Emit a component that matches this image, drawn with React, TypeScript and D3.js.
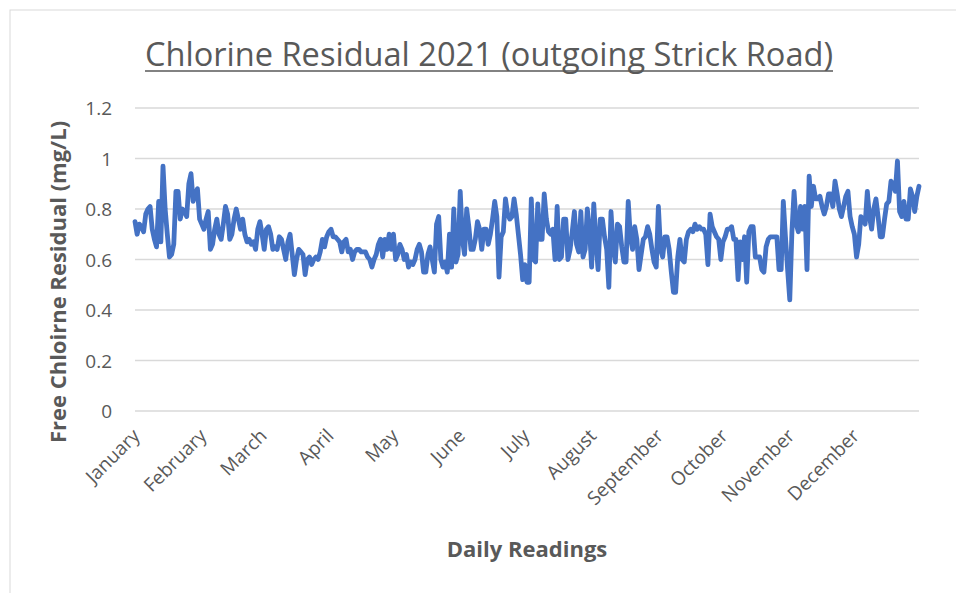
import React from "react";
import * as d3 from "d3";

const monthNames = ["January","February","March","April","May","June","July","August","September","October","November","December"];
const jan = [0.75,0.70,0.74,0.73,0.71,0.78,0.80,0.81,0.72,0.68,0.65,0.83,0.67,0.97,0.80,0.70,0.61,0.62,0.66,0.87,0.87,0.76,0.80,0.79,0.77,0.90,0.94,0.83,0.86,0.88,0.76];
const feb = [0.74,0.72,0.76,0.79,0.64,0.66,0.72,0.76,0.70,0.68,0.74,0.81,0.78,0.68,0.70,0.76,0.80,0.76,0.72,0.76,0.70,0.67,0.68,0.66,0.67,0.64,0.72,0.75];
const mar = [0.70,0.64,0.72,0.73,0.70,0.64,0.65,0.64,0.69,0.68,0.64,0.60,0.67,0.70,0.62,0.54,0.60,0.64,0.63,0.62,0.54,0.60,0.61,0.58,0.60,0.61,0.60,0.63,0.68,0.65,0.69];
const apr = [0.71,0.72,0.69,0.69,0.68,0.67,0.63,0.67,0.68,0.63,0.64,0.60,0.63,0.64,0.64,0.63,0.63,0.63,0.61,0.60,0.57,0.60,0.62,0.66,0.68,0.61,0.68,0.64,0.70,0.64];
const may = [0.70,0.60,0.62,0.66,0.64,0.60,0.62,0.57,0.59,0.58,0.60,0.64,0.66,0.63,0.55,0.55,0.62,0.65,0.60,0.55,0.74,0.77,0.60,0.57,0.59,0.55,0.70,0.57,0.80,0.59,0.62];
const jun = [0.87,0.68,0.62,0.80,0.73,0.64,0.64,0.68,0.75,0.72,0.64,0.72,0.72,0.66,0.70,0.76,0.83,0.77,0.53,0.69,0.71,0.84,0.78,0.76,0.77,0.84,0.78,0.70,0.62,0.52];
const jul = [0.58,0.51,0.51,0.84,0.60,0.59,0.82,0.68,0.68,0.86,0.76,0.71,0.70,0.72,0.60,0.81,0.60,0.61,0.76,0.76,0.60,0.64,0.71,0.79,0.66,0.63,0.79,0.61,0.64,0.80,0.72];
const aug = [0.57,0.82,0.67,0.56,0.76,0.76,0.69,0.64,0.49,0.79,0.65,0.59,0.74,0.73,0.65,0.59,0.59,0.83,0.69,0.64,0.73,0.68,0.56,0.62,0.68,0.69,0.73,0.70,0.64,0.59,0.57];
const sep = [0.81,0.64,0.61,0.69,0.69,0.64,0.55,0.47,0.47,0.61,0.68,0.60,0.59,0.68,0.71,0.72,0.71,0.74,0.72,0.73,0.72,0.72,0.70,0.58,0.78,0.73,0.71,0.69,0.68,0.60];
const oct = [0.67,0.69,0.72,0.72,0.73,0.68,0.68,0.52,0.67,0.60,0.69,0.51,0.71,0.73,0.73,0.61,0.61,0.61,0.56,0.55,0.65,0.68,0.69,0.69,0.69,0.69,0.56,0.56,0.83,0.69,0.56];
const nov = [0.44,0.71,0.87,0.74,0.71,0.81,0.72,0.81,0.56,0.93,0.81,0.89,0.84,0.84,0.85,0.81,0.78,0.81,0.86,0.86,0.81,0.91,0.86,0.80,0.77,0.81,0.85,0.87,0.77,0.73];
const dec = [0.70,0.61,0.66,0.77,0.76,0.74,0.87,0.77,0.72,0.80,0.84,0.77,0.69,0.69,0.76,0.82,0.83,0.91,0.90,0.87,0.99,0.79,0.77,0.83,0.76,0.76,0.88,0.85,0.79,0.85,0.89];
const months = [jan, feb, mar, apr, may, jun, jul, aug, sep, oct, nov, dec];
const yTicks = [0, 0.2, 0.4, 0.6, 0.8, 1, 1.2];

const values: number[] = months.flat();
const monthStarts: number[] = [];
{
  let acc = 0;
  months.forEach((m) => { monthStarts.push(acc); acc += m.length; });
}

export default function App() {
  const W = 956, H = 593;
  const x = d3.scaleLinear().domain([0, values.length - 1]).range([135, 919]);
  const y = d3.scaleLinear().domain([0, 1.2]).range([411, 108]);
  const line = d3.line<number>().x((_, i) => x(i)).y((d) => y(d));
  const font = "'Open Sans', 'Noto Sans', sans-serif";
  const grey = "#595959";
  return (
    <svg width={W} height={H} style={{ position: "absolute", left: 0, top: 0, background: "#fff" }}>
      <rect x={10} y={10} width={W + 10} height={H + 10} fill="#fff" stroke="#d9d9d9" strokeWidth={1} />
      <text x={489} y={66} textAnchor="middle" fontFamily={font} fontSize={32} fill={grey} textLength={688} lengthAdjust="spacingAndGlyphs">
        Chlorine Residual 2021 (outgoing Strick Road)
      </text>
      <line x1={145} x2={833} y1={71} y2={71} stroke={grey} strokeWidth={1.6} />
      {yTicks.map((t) => (
        <g key={t}>
          <line x1={135} x2={919} y1={y(t)} y2={y(t)} stroke="#d9d9d9" strokeWidth={1.5} />
          <text x={112} y={y(t) + 7} textAnchor="end" fontFamily={font} fontSize={19} fill={grey}>{d3.format("")(t)}</text>
        </g>
      ))}
      <path d={line(values) || ""} fill="none" stroke="#4472C4" strokeWidth={4.8} strokeLinejoin="round" strokeLinecap="round" />
      {monthStarts.map((s, i) => (
        <text key={i} transform={`translate(${x(s) + 6},${437}) rotate(-45)`} textAnchor="end" fontFamily={font} fontSize={19} fill={grey}>
          {monthNames[i]}
        </text>
      ))}
      <text transform={`translate(66,${282}) rotate(-90)`} textAnchor="middle" fontFamily={font} fontSize={22} fontWeight="bold" fill={grey}>
        Free Chloirne Residual (mg/L)
      </text>
      <text x={527} y={557} textAnchor="middle" fontFamily={font} fontSize={22} fontWeight="bold" fill={grey}>
        Daily Readings
      </text>
    </svg>
  );
}
